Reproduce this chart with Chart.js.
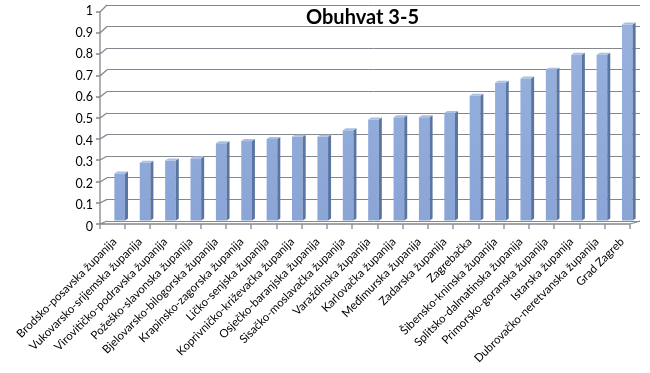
<!DOCTYPE html>
<html>
<head>
<meta charset="utf-8">
<script src="https://cdn.jsdelivr.net/npm/chart.js@4"></script>
<style>
  html, body { margin: 0; padding: 0; background: #ffffff; }
  #wrap { width: 650px; height: 373px; }
</style>
</head>
<body>
<div id="wrap"><canvas id="c" width="650" height="373"></canvas></div>
<script>
const chartTitle = "Obuhvat 3-5";
const categories = [
  "Brodsko-posavska županija",
  "Vukovarsko-srijemska županija",
  "Virovitičko-podravska županija",
  "Požeško-slavonska županija",
  "Bjelovarsko-bilogorska županija",
  "Krapinsko-zagorska županija",
  "Ličko-senjska županija",
  "Koprivničko-križevačka županija",
  "Osječko-baranjska županija",
  "Sisačko-moslavačka županija",
  "Varaždinska županija",
  "Karlovačka županija",
  "Međimurska županija",
  "Zadarska županija",
  "Zagrebačka",
  "Šibensko-kninska županija",
  "Splitsko-dalmatinska županija",
  "Primorsko-goranska županija",
  "Istarska županija",
  "Dubrovačko-neretvanska županija",
  "Grad Zagreb"
];
const values = [0.22, 0.27, 0.28, 0.29, 0.36, 0.37, 0.38, 0.39, 0.39, 0.42, 0.47, 0.48, 0.48, 0.50, 0.58, 0.64, 0.66, 0.70, 0.77, 0.77, 0.91];
const yMin = 0, yMax = 1, yStep = 0.1;

const FRONT_DX = -7;      // front plane offset (3D look)
const GRID = '#84878e';

const threeD = {
  id: 'threeD',
  beforeDatasetsDraw(chart) {
    const ctx = chart.ctx, ca = chart.chartArea;
    const ys = chart.scales.y;
    ctx.save();
    ctx.strokeStyle = GRID;
    ctx.lineWidth = 1.3;
    const fx = ca.left + FRONT_DX;
    const frontY = v => ys.getPixelForValue(v) + 3 + 4 * (v - yMin) / (yMax - yMin);
    ctx.beginPath();
    for (const t of ys.ticks) {
      const by = ys.getPixelForValue(t.value);
      const fy = Math.round(frontY(t.value));
      ctx.moveTo(ca.left, by); ctx.lineTo(fx, fy);
      ctx.moveTo(fx - 4, fy); ctx.lineTo(fx, fy);
    }
    ctx.moveTo(fx, Math.round(frontY(yMax))); ctx.lineTo(fx, Math.round(frontY(yMin)) + 1);
    const fy0 = Math.round(frontY(yMin));
    const frontRight = ca.right - 10;
    ctx.moveTo(fx, fy0); ctx.lineTo(frontRight, fy0);
    const n = categories.length;
    for (let i = 0; i <= n; i++) {
      const x = Math.round(fx + (frontRight - fx) * i / n);
      ctx.moveTo(x, fy0); ctx.lineTo(x, fy0 + 5);
    }
    ctx.moveTo(frontRight, fy0); ctx.lineTo(ca.right, ys.getPixelForValue(yMin));
    ctx.stroke();
    ctx.restore();
  },
  afterDatasetsDraw(chart) {
    const ctx = chart.ctx;
    const meta = chart.getDatasetMeta(0);
    const d = 3, dy = 2;
    ctx.save();
    meta.data.forEach(bar => {
      const p = bar.getProps(['x', 'y', 'base', 'width'], true);
      const l = p.x - p.width / 2, r = p.x + p.width / 2;
      ctx.fillStyle = '#5B75A1';
      ctx.beginPath();
      ctx.moveTo(r, p.y); ctx.lineTo(r + d, p.y - dy);
      ctx.lineTo(r + d, p.base - dy); ctx.lineTo(r, p.base);
      ctx.closePath(); ctx.fill();
      ctx.fillStyle = '#A9BFE4';
      ctx.beginPath();
      ctx.moveTo(l, p.y); ctx.lineTo(l + d, p.y - dy);
      ctx.lineTo(r + d, p.y - dy); ctx.lineTo(r, p.y);
      ctx.closePath(); ctx.fill();
    });
    ctx.restore();
  },
  afterDraw(chart) {
    const ctx = chart.ctx, ca = chart.chartArea;
    ctx.save();
    ctx.font = 'bold 20px Lato';
    ctx.fillStyle = '#000';
    ctx.textAlign = 'center';
    ctx.textBaseline = 'middle';
    ctx.fillText(chartTitle, (ca.left + ca.right) / 2 - 11, ca.top + 13);
    ctx.restore();
  }
};

new Chart(document.getElementById('c'), {
  type: 'bar',
  data: {
    labels: categories,
    datasets: [{
      data: values,
      backgroundColor: (c) => {
        const ch = c.chart, ca = ch.chartArea;
        if (!ca) return '#8FAADC';
        const g = ch.ctx.createLinearGradient(0, ca.top, 0, ca.bottom);
        g.addColorStop(0, '#9AB3DF');
        g.addColorStop(1, '#8AA5D6');
        return g;
      },
      borderWidth: 0,
      categoryPercentage: 1,
      barPercentage: 0.42
    }]
  },
  options: {
    responsive: false,
    animation: false,
    devicePixelRatio: 1,
    layout: { padding: { top: 5, right: 10, left: 0, bottom: 0 } },
    plugins: { legend: { display: false }, title: { display: false }, tooltip: { enabled: false } },
    scales: {
      x: {
        afterFit: s => { s.height = 152; s.paddingLeft = 0; s.paddingRight = 0; },
        grid: { display: false },
        border: { display: false },
        ticks: {
          color: '#000',
          font: { family: 'Lato', size: 11.5 },
          minRotation: 45, maxRotation: 45,
          padding: 6,
          labelOffset: -5,
          autoSkip: false
        }
      },
      y: {
        min: yMin, max: yMax,
        afterFit: s => { s.width = 107; s.paddingTop = 0; s.paddingBottom = 0; },
        grid: { color: GRID, lineWidth: 1, drawTicks: false },
        border: { display: false },
        ticks: {
          stepSize: yStep,
          color: '#000',
          font: { family: 'Lato', size: 12.5 },
          padding: 14,
          labelOffset: 6,
          callback: v => String(Math.round(v * 10) / 10)
        }
      }
    }
  },
  plugins: [threeD]
});
</script>
</body>
</html>
